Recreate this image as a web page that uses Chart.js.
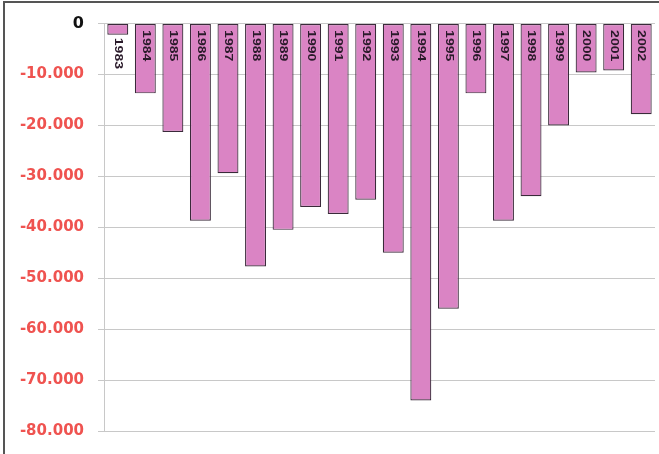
<!DOCTYPE html>
<html>
<head>
<meta charset="utf-8">
<script src="https://cdn.jsdelivr.net/npm/chart.js@4"></script>
<style>
  html, body { margin: 0; padding: 0; background: #fff; }
  #frame {
    position: absolute; left: 3px; top: 1px; width: 660px; height: 460px;
    border-left: 2px solid #555; border-top: 2px solid #555;
  }
  #wrap { position: absolute; left: 0; top: 0; width: 659px; height: 454px; }
</style>
</head>
<body>
<div id="frame"></div>
<div id="wrap"><canvas id="chart"></canvas></div>
<script>
const years = ['1983','1984','1985','1986','1987','1988','1989','1990','1991','1992',
               '1993','1994','1995','1996','1997','1998','1999','2000','2001','2002'];
const saldo = [-2200, -13700, -21300, -38700, -29400, -47700, -40500, -36000, -37400, -34600,
               -45000, -74000, -56000, -13700, -38700, -33900, -20000, -9600, -9200, -17800];

const fmt = v => v.toLocaleString('de-DE');

// Jahreszahlen senkrecht oben in den Balken (bzw. unter zu kurzen Balken)
const yearLabels = {
    id: 'yearLabels',
    afterDatasetsDraw(chart) {
        const ctx = chart.ctx;
        const stretch = 1.4;
        chart.getDatasetMeta(0).data.forEach((bar, i) => {
            ctx.save();
            ctx.font = 'bold 10px "Liberation Sans", Arial, sans-serif';
            const w = ctx.measureText(years[i]).width * stretch;
            const h = Math.abs(bar.y - bar.base);
            const tooShort = w + 8 > h;
            ctx.translate(bar.x, tooShort ? bar.y + 3 : bar.base + 6);
            ctx.rotate(Math.PI / 2);
            if (tooShort) {
                ctx.fillStyle = '#fff';
                ctx.fillRect(-1, -6, w + 2, 12);
            }
            ctx.scale(stretch, 1);
            ctx.textAlign = 'left';
            ctx.textBaseline = 'middle';
            ctx.fillStyle = '#2a1a2a';
            ctx.fillText(years[i], 0, 0);
            ctx.restore();
        });
    }
};

new Chart(document.getElementById('chart'), {
    type: 'bar',
    data: {
        labels: years,
        datasets: [{
            data: saldo,
            backgroundColor: '#da84c4',
            borderColor: '#3a2a3a',
            borderWidth: 1.2,
            borderSkipped: false,
            barPercentage: 0.76,
            categoryPercentage: 1
        }]
    },
    options: {
        responsive: true,
        maintainAspectRatio: false,
        animation: false,
        layout: { padding: { left: 10, right: 4, top: 13, bottom: 18 } },
        plugins: { legend: { display: false }, tooltip: { enabled: false } },
        scales: {
            x: { display: false },
            y: {
                min: -80000,
                max: 0,
                ticks: {
                    stepSize: 10000,
                    padding: 14,
                    callback: v => fmt(v),
                    color: c => c.tick && c.tick.value === 0 ? '#111' : '#ef5350',
                    font: c => ({
                        family: '"DejaVu Sans", sans-serif',
                        size: c.tick && c.tick.value === 0 ? 16 : 15,
                        weight: 'bold'
                    })
                },
                grid: { color: '#c8c8c8', tickLength: 6 },
                border: { color: '#c8c8c8' },
                afterFit: s => { s.width = 94; }
            }
        }
    },
    plugins: [yearLabels]
});
</script>
</body>
</html>
